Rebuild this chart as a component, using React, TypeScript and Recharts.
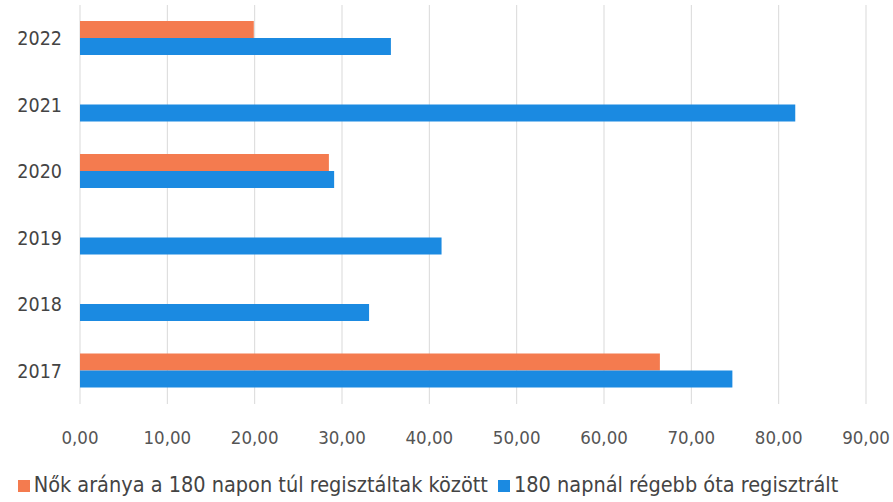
import React from "react";
import {
  BarChart,
  Bar,
  XAxis,
  YAxis,
  CartesianGrid,
  Legend,
} from "recharts";

// years, top to bottom as in the picture
const years = ["2022", "2021", "2020", "2019", "2018", "2017"];
const womenShare = [19.9, null, 28.5, null, null, 66.4];
const over180 = [35.6, 81.9, 29.1, 41.4, 33.1, 74.7];
const xTicks = [0, 10, 20, 30, 40, 50, 60, 70, 80, 90];

const ORANGE = "#F47B4F";
const BLUE = "#1B8AE1";
const FONT = "'DejaVu Sans Condensed', 'Liberation Sans', sans-serif";

const data = years.map((y, i) => ({
  year: y,
  women: womenShare[i],
  over: over180[i],
}));

const fmt = (v: number) => v.toFixed(2).replace(".", ",");

export default function App() {
  return (
    <div style={{ width: 893, height: 502, fontFamily: FONT }}>
      <style>{"body{margin:0}"}</style>
      <BarChart
        width={893}
        height={502}
        data={data}
        layout="vertical"
        margin={{ top: 5, right: 27, left: 0, bottom: 2 }}
        barGap={0}
      >
        <CartesianGrid horizontal={false} stroke="#d9d9d9" />
        <XAxis
          type="number"
          domain={[0, 90]}
          ticks={xTicks}
          tickFormatter={fmt}
          axisLine={false}
          tickLine={false}
          tickSize={0}
          tickMargin={27}
          height={71}
          tick={{ fill: "#555", fontSize: 18.5, fontFamily: FONT }}
        />
        <YAxis
          type="category"
          dataKey="year"
          width={80}
          axisLine={false}
          tickLine={false}
          tickSize={0}
          tickMargin={18}
          tick={{ fill: "#444", fontSize: 19.5, fontFamily: FONT }}
        />
        <Legend
          verticalAlign="bottom"
          iconType="square"
          iconSize={12}
          itemSorter={null as any}
          wrapperStyle={{ fontSize: 21.5, color: "#444", fontFamily: FONT, bottom: 5 }}
          formatter={(value) => <span style={{ color: "#444" }}>{value}</span>}
        />
        <Bar
          dataKey="women"
          name="Nők aránya a 180 napon túl regisztáltak között"
          fill={ORANGE}
          barSize={17}
          isAnimationActive={false}
        />
        <Bar
          dataKey="over"
          name="180 napnál régebb óta regisztrált"
          fill={BLUE}
          barSize={17}
          isAnimationActive={false}
        />
      </BarChart>
    </div>
  );
}
